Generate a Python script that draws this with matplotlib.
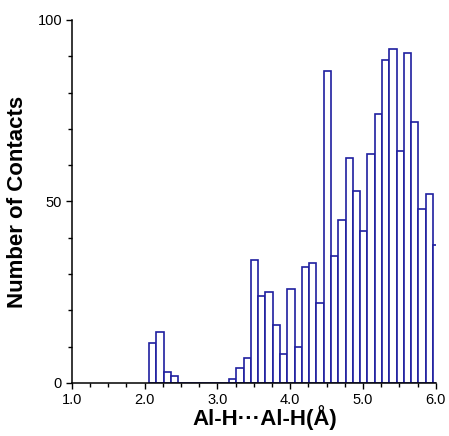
import numpy as np
import matplotlib
matplotlib.use("Agg")
import matplotlib.pyplot as plt
from matplotlib.ticker import MultipleLocator, FormatStrFormatter

plt.rcParams["font.family"] = ["Liberation Sans", "DejaVu Sans"]

# histogram of contact distances, bin width 0.1 starting at 2.06
bin_start = 2.06
bin_width = 0.1
counts = [11, 14, 3, 2, 0, 0, 0, 0, 0, 0, 0,
          1, 4, 7, 34, 24, 25, 16, 8, 26, 10,
          32, 33, 22, 86, 35, 45, 62, 53, 42, 63,
          74, 89, 92, 64, 91, 72, 48, 52, 38]

edges = bin_start + bin_width * np.arange(len(counts))

fig = plt.figure(figsize=(4.49, 4.36), dpi=100)
ax = fig.add_axes([0.160, 0.1216, 0.8107, 0.8326])

bar_color = "#1f1fa0"
ax.bar(edges, counts, width=bin_width, align="edge", facecolor="white",
       edgecolor=bar_color, linewidth=1.2)

ax.set_xlim(1.0, 6.0)
ax.set_ylim(0, 100)

for s in ["top", "right"]:
    ax.spines[s].set_visible(False)
for s in ["left", "bottom"]:
    ax.spines[s].set_linewidth(1.1)

ax.xaxis.set_major_locator(MultipleLocator(1.0))
ax.xaxis.set_minor_locator(MultipleLocator(0.25))
ax.xaxis.set_major_formatter(FormatStrFormatter("%.1f"))
ax.yaxis.set_major_locator(MultipleLocator(50))
ax.yaxis.set_minor_locator(MultipleLocator(10))
ax.tick_params(which="both", direction="out", width=1.0, labelsize=10.5)
ax.tick_params(which="major", length=4, pad=3)
ax.tick_params(which="minor", length=3)

ax.set_xlabel("Al-H\u00b7\u00b7\u00b7Al-H(Å)", fontsize=16, fontweight="bold", labelpad=-1)
ax.xaxis.label.set_x(0.53)
ax.set_ylabel("Number of Contacts", fontsize=16, fontweight="bold", labelpad=7)

fig.savefig("out.png", dpi=100)
